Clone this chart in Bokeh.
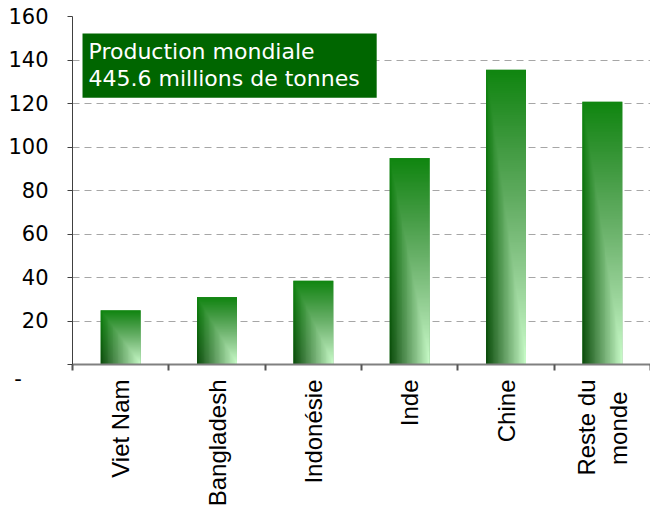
import math
import numpy as np
from bokeh.plotting import figure
from bokeh.models import Range1d, FixedTicker, Label
from bokeh.embed import file_html
from bokeh.resources import INLINE

# ---- data ----
categories = ["Viet Nam", "Bangladesh", "Indonésie", "Inde", "Chine", "Reste du\nmonde"]
values = [24.9, 31.0, 38.5, 94.9, 135.5, 120.8]
y_ticks = [0, 20, 40, 60, 80, 100, 120, 140, 160]
title_lines = ["Production mondiale", "445.6 millions de tonnes"]

n = len(categories)
centers = [i + 0.5 for i in range(n)]
bar_w = 0.415

p = figure(width=650, height=511, x_range=Range1d(0, n), y_range=Range1d(0, 160),
           output_backend="svg", toolbar_location=None,
           min_border_left=72, min_border_right=0, min_border_top=16, min_border_bottom=147)
p.outline_line_color = None
p.background_fill_color = "white"

# grid
p.xgrid.visible = False
p.ygrid.grid_line_color = "#a6a6a6"
p.ygrid.grid_line_dash = "7 5"
p.ygrid.grid_line_width = 1

# x axis: labels centred on categories, tick marks on boundaries
def center_lines(lab):
    # pad shorter lines so multi-line labels look centred
    lines = lab.split("\n")
    if len(lines) == 1:
        return lab
    return lines[0] + "\n" + lines[1] + "\u2002"

p.xaxis.ticker = FixedTicker(ticks=centers, minor_ticks=list(range(n + 1)))
p.xaxis.major_label_overrides = {c: center_lines(lab) for c, lab in zip(centers, categories)}
p.xaxis.major_tick_out = 0
p.xaxis.major_tick_in = 0
p.xaxis.minor_tick_out = 6
p.xaxis.minor_tick_in = 0
p.xaxis.minor_tick_line_color = "#555555"
p.xaxis.minor_tick_line_width = 2
p.xaxis.axis_line_color = "#808080"
p.xaxis.axis_line_width = 2
p.xaxis.major_label_orientation = math.pi / 2
p.xaxis.major_label_standoff = 9
p.xaxis.major_label_text_font = "Liberation Sans"
p.xaxis.major_label_text_font_size = "24px"
p.xaxis.major_label_text_color = "black"

# y axis
p.yaxis.ticker = FixedTicker(ticks=y_ticks)
p.yaxis.major_label_overrides = {0: "\n-\u2007\u2007"}
p.yaxis.major_tick_out = 5
p.yaxis.major_tick_in = 0
p.yaxis.major_tick_line_color = "#404040"
p.yaxis.axis_line_color = "#404040"
p.yaxis.major_label_standoff = 19
p.yaxis.major_label_text_font = "DejaVu Sans"
p.yaxis.major_label_text_font_size = "21px"
p.yaxis.major_label_text_color = "black"

# bars (base fill + gradient overlay)
p.vbar(x=centers, top=values, width=bar_w, bottom=0, fill_color="#5aa85a", line_color=None)

H, W = 160, 48
u = np.linspace(0, 1, W)[None, :]
v = np.linspace(1, 0, H)[:, None]  # fraction from top; row 0 is bottom
top_c = np.array([16, 134, 16], dtype=float)
dark_c = np.array([12, 76, 12], dtype=float)
light_c = np.array([204, 255, 204], dtype=float)
t = np.minimum(u, v)[..., None]
base = top_c + (dark_c - top_c) * v[..., None]
col = base + (light_c - base) * t
img = np.empty((H, W), dtype=np.uint32)
view = img.view(dtype=np.uint8).reshape((H, W, 4))
view[..., 0] = np.clip(col[..., 0], 0, 255).astype(np.uint8)
view[..., 1] = np.clip(col[..., 1], 0, 255).astype(np.uint8)
view[..., 2] = np.clip(col[..., 2], 0, 255).astype(np.uint8)
view[..., 3] = 255

p.image_rgba(image=[img] * n, x=[c - bar_w / 2 for c in centers], y=[0] * n,
             dw=[bar_w] * n, dh=values)

# title box
p.add_layout(Label(x=0.104, y=152.2, text="\n".join(title_lines),
                   text_font="DejaVu Sans", text_font_size="22px", text_color="white",
                   text_align="left", text_baseline="top", text_line_height=1.05,
                   background_fill_color="#006600", padding=(6, 17, 6, 7)))

open("out.html", "w").write(file_html(p, INLINE))
